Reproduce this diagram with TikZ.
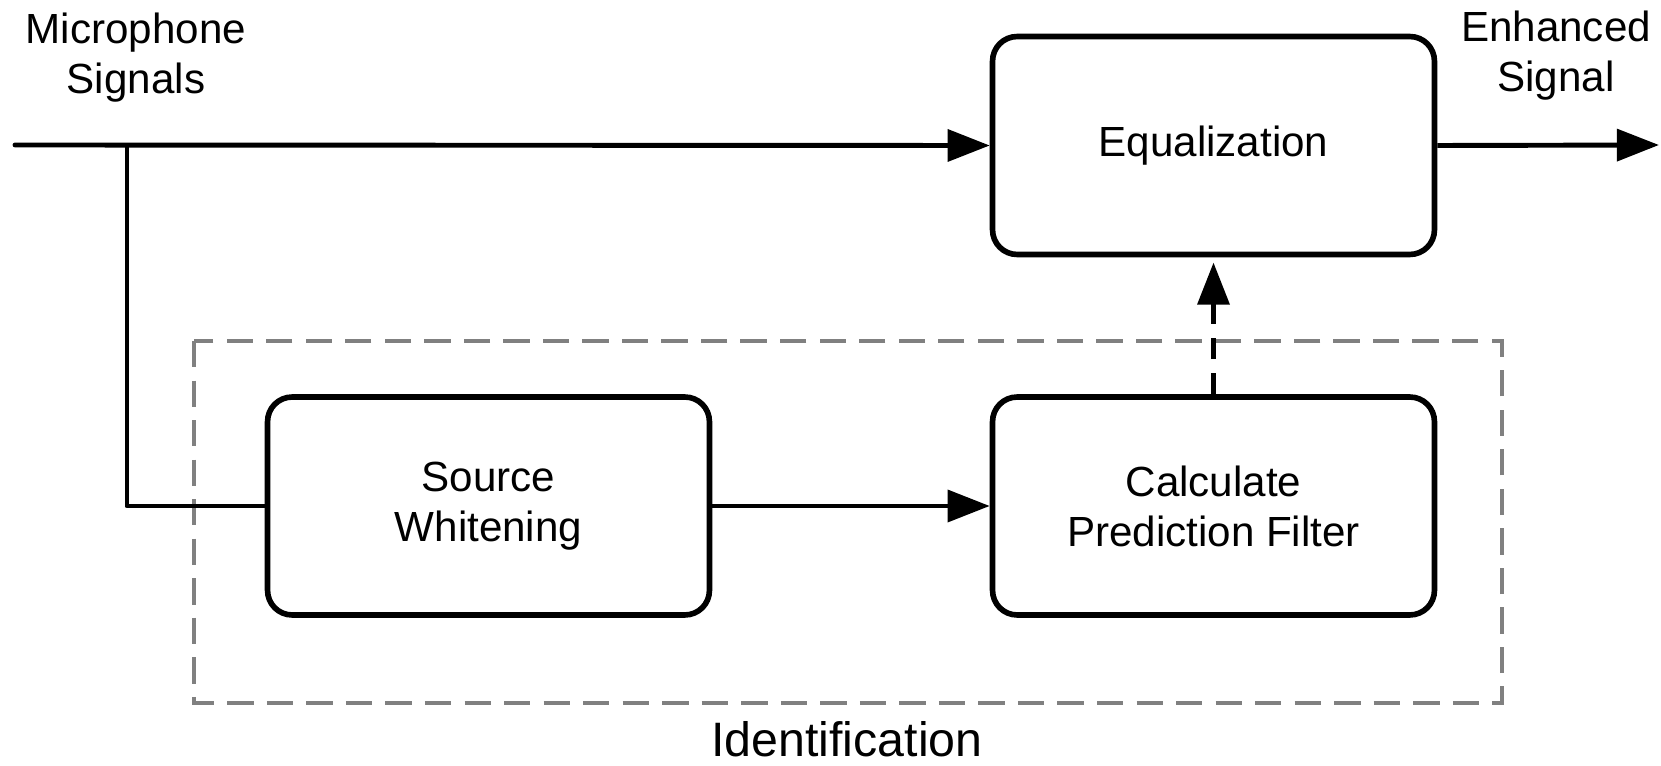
\documentclass[tikz,border=0pt]{standalone}
\usepackage{fontspec}
\setmainfont{Liberation Sans}
\usetikzlibrary{arrows.meta}
\definecolor{framegray}{RGB}{128,128,128}
\tikzset{
	block/.style={draw,rounded corners=14pt,line width=3.2pt,minimum width=8.84cm,minimum height=4.36cm,align=center,font=\fontsize{24}{28.5}\selectfont},
	flow/.style={line width=2.8pt,line cap=round,-{Triangle[length=24pt,width=18pt]}},
	lbl/.style={align=center,inner sep=0pt,font=\fontsize{24}{28.5}\selectfont}
}
\begin{document}
\begin{tikzpicture}[x=0.02cm,y=-0.02cm]
	\useasboundingbox (0,0) rectangle (1661,766);
	\draw[framegray,line width=2pt,dash pattern=on 15pt off 7.5pt] (194,341) rectangle (1502,703);
	\node[block] (eq) at (1213.5,145.5) {Equalization};
	\node[block] (sw) at (488.5,506) {Source\\Whitening};
	\node[block] (cpf) at (1213.5,506) {Calculate\\Prediction Filter};
	\node[lbl] (mic) at (136,58) {Microphone\\Signals};
	\node[lbl] (enh) at (1556,56) {Enhanced\\Signal};
	\node[anchor=base,inner sep=0pt,font=\fontsize{27.5}{33}\selectfont] (ident) at (847,757) {Identification};
	\coordinate (in) at (15,145);
	\coordinate (br) at (127,145);
	\coordinate (out) at (1659,145);
	\draw[flow] (in) -- (eq.west);
	\draw[line width=2.8pt,line join=round] (br) |- (sw.west);
	\draw[flow] (sw) -- (cpf);
	\draw[flow,line cap=butt] (eq.east) -- (out);
	\draw[flow,line cap=butt,dash pattern=on 12pt off 8pt,shorten >=3pt] (cpf.north) -- (eq.south);
\end{tikzpicture}
\end{document}
